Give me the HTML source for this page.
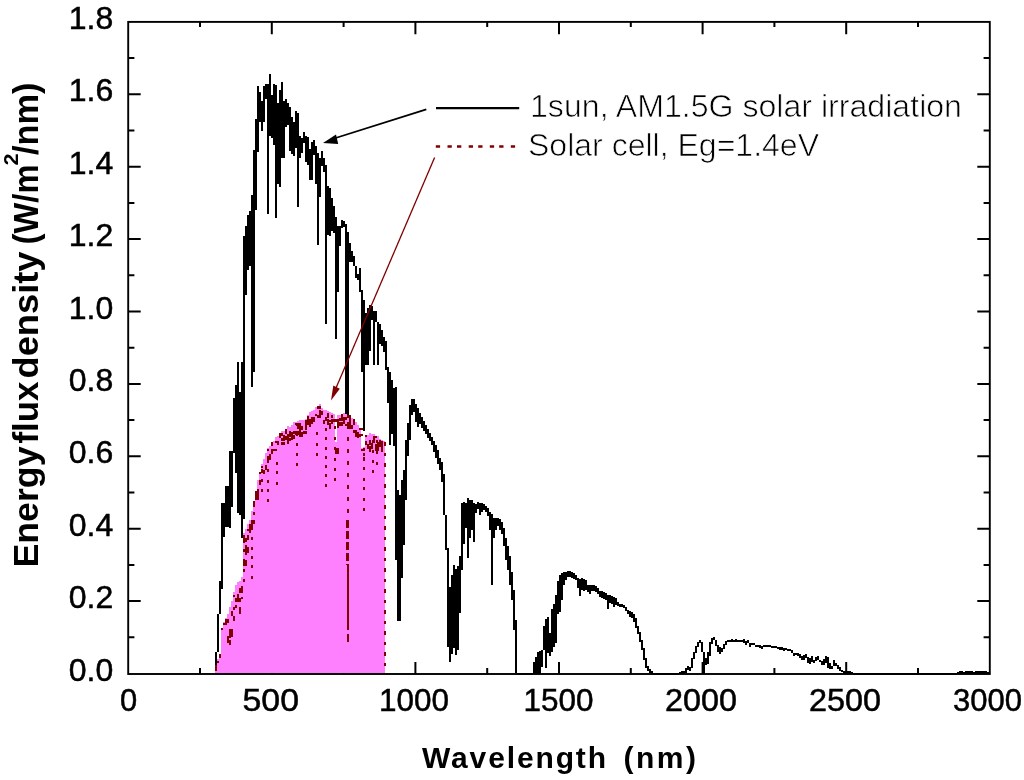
<!DOCTYPE html>
<html><head><meta charset="utf-8"><title>Solar spectrum</title>
<style>html,body{margin:0;padding:0;background:#fff}svg{display:block}</style></head>
<body>
<svg width="1024" height="780" viewBox="0 0 1024 780">
<rect width="1024" height="780" fill="#fff"/>
<path d="M200.0,674.0 v-6.0 M200.0,21.9 v5.0 M271.8,674.0 v-12.0 M271.8,21.9 v12.3 M343.6,674.0 v-6.0 M343.6,21.9 v5.0 M415.4,674.0 v-12.0 M415.4,21.9 v12.3 M487.2,674.0 v-6.0 M487.2,21.9 v5.0 M559.0,674.0 v-12.0 M559.0,21.9 v12.3 M630.8,674.0 v-6.0 M630.8,21.9 v5.0 M702.6,674.0 v-12.0 M702.6,21.9 v12.3 M774.4,674.0 v-6.0 M774.4,21.9 v5.0 M846.2,674.0 v-12.0 M846.2,21.9 v12.3 M918.0,674.0 v-6.0 M918.0,21.9 v5.0 M128.2,637.3 h6.2 M989.8,637.3 h-6.2 M128.2,601.1 h12.5 M989.8,601.1 h-12.5 M128.2,564.9 h6.2 M989.8,564.9 h-6.2 M128.2,528.7 h12.5 M989.8,528.7 h-12.5 M128.2,492.5 h6.2 M989.8,492.5 h-6.2 M128.2,456.3 h12.5 M989.8,456.3 h-12.5 M128.2,420.1 h6.2 M989.8,420.1 h-6.2 M128.2,383.9 h12.5 M989.8,383.9 h-12.5 M128.2,347.7 h6.2 M989.8,347.7 h-6.2 M128.2,311.5 h12.5 M989.8,311.5 h-12.5 M128.2,275.3 h6.2 M989.8,275.3 h-6.2 M128.2,239.1 h12.5 M989.8,239.1 h-12.5 M128.2,202.9 h6.2 M989.8,202.9 h-6.2 M128.2,166.7 h12.5 M989.8,166.7 h-12.5 M128.2,130.5 h6.2 M989.8,130.5 h-6.2 M128.2,94.3 h12.5 M989.8,94.3 h-12.5 M128.2,58.1 h6.2 M989.8,58.1 h-6.2" stroke="#000" stroke-width="2" fill="none"/>
<path d="M216,652 V673 M218,614 V652 M220,581 V614 M222,503 V589 M224,503 V537 M226,486 V527 M228,486 V527 M230,451 V528 M232,451 V507 M234,398 V453 M236,385 V473 M238,362 V513 M240,392 V515 M242,362 V538 M244,236 V519 M246,226 V295 M248,215 V270 M250,211 V266 M252,195 V387 M254,150 V372 M256,119 V210 M258,86 V152 M260,92 V122 M262,101 V131 M264,86 V122 M266,84 V99 M268,84 V214 M270,74 V136 M272,95 V138 M274,84 V145 M276,85 V218 M278,103 V184 M280,90 V187 M282,82 V158 M284,101 V158 M286,99 V127 M288,103 V125 M290,107 V151 M292,117 V154 M294,122 V156 M296,111 V148 M298,113 V207 M300,136 V158 M302,138 V153 M304,132 V143 M306,136 V162 M308,137 V165 M310,149 V180 M312,142 V180 M314,140 V155 M316,146 V184 M318,153 V245 M320,158 V197 M322,151 V166 M324,158 V172 M326,165 V324 M328,186 V235 M330,188 V236 M332,198 V231 M334,206 V233 M336,217 V339 M338,226 V292 M340,226 V246 M342,220 V228 M344,221 V227 M346,224 V640 M348,232 V640 M350,243 V262 M352,251 V262 M354,256 V266 M356,266 V278 M358,274 V280 M360,268 V292 M362,290 V372 M364,300 V431 M366,313 V365 M368,308 V365 M370,305 V351 M372,306 V320 M374,311 V365 M376,311 V322 M378,322 V365 M380,324 V344 M382,330 V346 M384,337 V352 M386,341 V370 M388,367 V403 M390,372 V445 M392,380 V434 M394,388 V446 M396,387 V560 M398,490 V621 M400,495 V621 M402,480 V578 M404,470 V545 M406,440 V500 M408,423 V456 M410,405 V440 M412,399 V415 M414,399 V412 M416,404 V422 M418,408 V427 M420,413 V424 M422,417 V428 M424,421 V431 M426,425 V434 M428,429 V438 M430,433 V441 M432,437 V445 M434,441 V452 M436,445 V458 M438,450 V464 M440,458 V470 M442,462 V482 M444,474 V515 M446,515 V550 M448,548 V647 M450,587 V662 M452,575 V654 M454,565 V648 M456,569 V655 M458,566 V650 M460,556 V613 M462,503 V570 M464,502 V544 M466,503 V528 M468,498 V558 M470,500 V538 M472,500 V530 M474,503 V542 M476,504 V513 M478,502 V509 M480,503 V515 M482,503 V512 M484,504 V510 M486,506 V512 M488,508 V516 M490,512 V530 M492,514 V585 M494,518 V538 M496,518 V530 M498,518 V526 M500,519 V530 M502,522 V534 M504,528 V546 M506,538 V560 M508,546 V570 M510,556 V585 M512,572 V600 M514,590 V630 M516,620 V673 M518,673 V675 M520,673 V675 M522,673 V675 M524,673 V675 M526,673 V675 M528,673 V675 M530,673 V675 M532,673 V675 M534,662 V674 M536,657 V674 M538,652 V674 M540,651 V674 M542,650 V667 M544,626 V650 M546,619 V668 M548,617 V653 M550,633 V656 M552,609 V652 M554,604 V647 M556,595 V643 M558,581 V614 M560,575 V612 M562,573 V600 M564,572 V585 M566,572 V580 M568,571 V577 M570,571 V577 M572,572 V578 M574,573 V579 M576,575 V580 M578,578 V588 M580,579 V596 M582,578 V590 M584,579 V591 M586,580 V590 M588,585 V592 M590,585 V594 M592,585 V591 M594,585 V591 M596,586 V592 M598,588 V594 M600,591 V597 M602,591 V598 M604,592 V599 M606,593 V600 M608,595 V609 M610,595 V603 M612,596 V604 M614,597 V607 M616,598 V605 M618,602 V606 M620,604 V607 M622,604 V607 M624,605 V608 M626,607 V611 M628,610 V614 M630,611 V617 M632,612 V618 M634,614 V622 M636,618 V628 M638,626 V634 M640,632 V642 M642,640 V650 M644,648 V660 M646,658 V668 M648,666 V671 M650,669 V673 M652,671 V674 M654,673 V675 M656,673 V675 M658,673 V675 M660,673 V675 M662,673 V675 M664,673 V675 M666,673 V675 M668,673 V675 M670,673 V675 M672,673 V675 M674,673 V675 M676,673 V675 M678,673 V675 M680,672 V674 M682,671 V674 M684,671 V674 M686,668 V673 M688,666 V670 M690,667 V671 M692,658 V668 M694,652 V659 M696,646 V653 M698,642 V647 M700,640 V643 M702,642 V652 M704,652 V674 M706,658 V665 M708,652 V664 M710,642 V656 M712,638 V644 M714,637 V640 M716,640 V646 M718,645 V652 M720,647 V654 M722,648 V652 M724,644 V649 M726,641 V645 M728,640 V642 M730,640 V642 M732,639 V642 M734,640 V642 M736,639 V642 M738,640 V642 M740,640 V642 M742,640 V642 M744,639 V643 M746,641 V645 M748,640 V643 M750,643 V647 M752,643 V645 M754,643 V645 M756,645 V647 M758,645 V647 M760,645 V648 M762,646 V649 M764,645 V647 M766,645 V647 M768,645 V647 M770,645 V647 M772,646 V648 M774,646 V648 M776,646 V648 M778,647 V649 M780,647 V650 M782,647 V650 M784,648 V651 M786,648 V650 M788,649 V651 M790,649 V651 M792,650 V653 M794,653 V656 M796,653 V655 M798,653 V656 M800,654 V658 M802,656 V660 M804,655 V660 M806,654 V658 M808,657 V663 M810,658 V664 M812,656 V662 M814,660 V663 M816,657 V661 M818,656 V660 M820,660 V662 M822,661 V665 M824,659 V665 M826,656 V663 M828,657 V668 M830,663 V669 M832,666 V669 M834,660 V666 M836,663 V666 M838,665 V669 M840,667 V671 M842,670 V672 M844,671 V674 M846,671 V674 M848,671 V674 M850,671 V674 M852,672 V674 M854,673 V675 M856,673 V675 M858,673 V675 M860,673 V675 M862,673 V675 M864,673 V675 M866,673 V675 M868,673 V675 M870,673 V675 M872,673 V675 M874,673 V675 M876,673 V675 M878,673 V675 M880,673 V675 M882,673 V675 M884,673 V675 M886,673 V675 M888,673 V675 M890,673 V675 M892,673 V675 M894,673 V675 M896,673 V675 M898,673 V675 M900,673 V675 M902,673 V675 M904,673 V675 M906,673 V675 M908,673 V675 M910,673 V675 M912,673 V675 M914,673 V675 M916,673 V675 M918,673 V675 M920,673 V675 M922,673 V675 M924,673 V675 M926,673 V675 M928,673 V675 M930,673 V675 M932,673 V675 M934,673 V675 M936,673 V675 M938,673 V675 M940,673 V675 M942,673 V675 M944,673 V675 M946,673 V675 M948,673 V675 M950,673 V675 M952,673 V675 M954,673 V675 M956,673 V675 M958,672 V674 M960,671 V674 M962,671 V674 M964,672 V674 M966,671 V674 M968,671 V674 M970,671 V674 M972,671 V674 M974,672 V674 M976,671 V674 M978,671 V674 M980,671 V674 M982,671 V674 M984,671 V674 M986,671 V674 M988,672 V674" fill="none" stroke="#000" stroke-width="2" shape-rendering="crispEdges"/>
<path d="M215,665 h2 V673 h-2zM217,659 h2 V673 h-2zM219,654 h2 V673 h-2zM221,629 h2 V673 h-2zM223,622 h2 V673 h-2zM225,618 h2 V673 h-2zM227,614 h2 V673 h-2zM229,607 h2 V673 h-2zM231,601 h2 V673 h-2zM233,592 h2 V673 h-2zM235,585 h2 V673 h-2zM237,582 h2 V673 h-2zM239,581 h2 V673 h-2zM241,577 h2 V673 h-2zM243,533 h2 V673 h-2zM245,529 h2 V673 h-2zM247,524 h2 V673 h-2zM249,520 h2 V673 h-2zM251,511 h2 V673 h-2zM253,501 h2 V673 h-2zM255,491 h2 V673 h-2zM257,480 h2 V673 h-2zM259,472 h2 V673 h-2zM261,464 h2 V673 h-2zM263,459 h2 V673 h-2zM265,453 h2 V673 h-2zM267,448 h2 V673 h-2zM269,446 h2 V673 h-2zM271,442 h2 V673 h-2zM273,441 h2 V673 h-2zM275,437 h2 V673 h-2zM277,436 h2 V673 h-2zM279,433 h2 V673 h-2zM281,431 h2 V673 h-2zM283,431 h2 V673 h-2zM285,430 h2 V673 h-2zM287,426 h2 V673 h-2zM289,427 h2 V673 h-2zM291,425 h2 V673 h-2zM293,422 h2 V673 h-2zM295,422 h2 V673 h-2zM297,421 h2 V673 h-2zM299,420 h2 V673 h-2zM301,420 h2 V673 h-2zM303,420 h2 V673 h-2zM305,419 h2 V673 h-2zM307,415 h2 V673 h-2zM309,412 h2 V673 h-2zM311,411 h2 V673 h-2zM313,410 h2 V673 h-2zM315,407 h2 V673 h-2zM317,406 h2 V673 h-2zM319,404 h2 V673 h-2zM321,408 h2 V673 h-2zM323,410 h2 V673 h-2zM325,410 h2 V673 h-2zM327,411 h2 V673 h-2zM329,412 h2 V673 h-2zM331,413 h2 V673 h-2zM333,414 h2 V673 h-2zM335,442 h2 V673 h-2zM337,415 h2 V673 h-2zM339,415 h2 V673 h-2zM341,414 h2 V673 h-2zM343,413 h2 V673 h-2zM345,414 h2 V673 h-2zM347,417 h2 V673 h-2zM349,415 h2 V673 h-2zM351,418 h2 V673 h-2zM353,419 h2 V673 h-2zM355,422 h2 V673 h-2zM357,425 h2 V673 h-2zM359,429 h2 V673 h-2zM361,448 h2 V673 h-2zM363,447 h2 V673 h-2zM365,437 h2 V673 h-2zM367,435 h2 V673 h-2zM369,433 h2 V673 h-2zM371,434 h2 V673 h-2zM373,434 h2 V673 h-2zM375,436 h2 V673 h-2zM377,436 h2 V673 h-2zM379,439 h2 V673 h-2zM381,440 h2 V673 h-2zM383,441 h2 V673 h-2zM383,442 h2 V673 h-2z" fill="#ff80ff" shape-rendering="crispEdges"/>
<path d="M215,665 h2 v6 h-2zM217,661 h2 v2 h-2zM219,654 h2 v4 h-2zM221,628 h2 v2 h-2zM223,623 h4 v2 h-4zM225,620 h4 v3 h-4zM225,619 h2 v5 h-2zM227,619 h2 v4 h-2zM227,640 h2 v3 h-2zM227,636 h2 v4 h-2zM229,633 h2 v5 h-2zM229,629 h4 v5 h-4zM229,640 h2 v5 h-2zM229,634 h4 v3 h-4zM231,611 h2 v5 h-2zM231,629 h2 v4 h-2zM233,595 h2 v2 h-2zM233,607 h2 v3 h-2zM233,616 h2 v3 h-2zM233,618 h2 v3 h-2zM235,605 h2 v3 h-2zM235,598 h2 v4 h-2zM237,598 h4 v4 h-4zM237,594 h2 v4 h-2zM239,590 h4 v2 h-4zM239,610 h2 v4 h-2zM239,607 h2 v4 h-2zM239,588 h4 v5 h-4zM241,597 h2 v2 h-2zM241,586 h2 v6 h-2zM243,538 h4 v4 h-4zM243,560 h4 v3 h-4zM243,562 h4 v4 h-4zM243,535 h2 v6 h-2zM245,545 h2 v5 h-2zM245,553 h2 v2 h-2zM245,547 h4 v6 h-4zM247,529 h2 v2 h-2zM247,535 h2 v5 h-2zM249,528 h2 v5 h-2zM249,524 h2 v3 h-2zM249,526 h2 v2 h-2zM251,520 h4 v4 h-4zM251,523 h2 v4 h-2zM253,501 h2 v6 h-2zM253,512 h2 v3 h-2zM255,491 h2 v5 h-2zM255,494 h4 v6 h-4zM257,489 h2 v5 h-2zM259,480 h2 v5 h-2zM259,472 h2 v2 h-2zM261,469 h2 v3 h-2zM261,466 h2 v2 h-2zM263,470 h2 v4 h-2zM265,465 h2 v5 h-2zM267,449 h2 v2 h-2zM267,456 h4 v4 h-4zM269,454 h2 v3 h-2zM271,442 h2 v4 h-2zM271,449 h2 v5 h-2zM273,449 h4 v2 h-4zM275,441 h2 v2 h-2zM277,441 h2 v4 h-2zM279,436 h2 v2 h-2zM279,433 h4 v3 h-4zM281,438 h2 v3 h-2zM281,442 h4 v3 h-4zM283,435 h2 v6 h-2zM285,429 h2 v5 h-2zM285,436 h2 v4 h-2zM287,438 h2 v6 h-2zM287,438 h4 v3 h-4zM287,434 h2 v6 h-2zM289,432 h2 v5 h-2zM289,431 h2 v4 h-2zM291,432 h2 v3 h-2zM291,434 h2 v6 h-2zM291,436 h2 v4 h-2zM293,435 h2 v4 h-2zM293,431 h4 v3 h-4zM295,431 h4 v4 h-4zM295,423 h2 v2 h-2zM297,427 h4 v2 h-4zM297,426 h2 v3 h-2zM297,423 h4 v6 h-4zM299,432 h4 v5 h-4zM299,429 h2 v6 h-2zM301,426 h2 v4 h-2zM303,431 h4 v3 h-4zM305,420 h4 v5 h-4zM305,425 h2 v5 h-2zM307,416 h2 v4 h-2zM309,419 h4 v2 h-4zM309,421 h2 v6 h-2zM311,417 h4 v5 h-4zM311,419 h2 v5 h-2zM313,417 h2 v4 h-2zM315,414 h2 v2 h-2zM317,406 h4 v3 h-4zM317,415 h2 v3 h-2zM319,410 h2 v4 h-2zM319,410 h2 v3 h-2zM319,413 h2 v5 h-2zM321,411 h2 v4 h-2zM321,412 h2 v2 h-2zM323,420 h2 v2 h-2zM323,421 h2 v3 h-2zM325,418 h2 v3 h-2zM327,419 h2 v6 h-2zM327,413 h2 v5 h-2zM329,423 h2 v6 h-2zM329,420 h2 v2 h-2zM331,419 h2 v5 h-2zM331,415 h2 v3 h-2zM333,419 h4 v3 h-4zM335,449 h2 v2 h-2zM335,448 h4 v6 h-4zM337,420 h2 v5 h-2zM337,419 h2 v2 h-2zM337,424 h2 v4 h-2zM339,423 h2 v3 h-2zM339,418 h2 v3 h-2zM339,422 h4 v4 h-4zM341,417 h4 v4 h-4zM341,414 h2 v4 h-2zM343,418 h2 v6 h-2zM343,417 h4 v3 h-4zM343,417 h2 v4 h-2zM345,424 h4 v2 h-4zM347,422 h4 v2 h-4zM347,415 h4 v3 h-4zM347,423 h4 v6 h-4zM349,418 h2 v5 h-2zM351,425 h2 v4 h-2zM353,430 h4 v3 h-4zM353,419 h2 v6 h-2zM355,432 h4 v5 h-4zM357,432 h2 v6 h-2zM359,434 h4 v2 h-4zM359,428 h4 v2 h-4zM359,435 h2 v2 h-2zM361,449 h2 v2 h-2zM363,453 h2 v3 h-2zM363,457 h2 v3 h-2zM365,441 h2 v4 h-2zM365,435 h2 v2 h-2zM367,444 h2 v5 h-2zM367,445 h2 v4 h-2zM369,440 h2 v5 h-2zM369,441 h2 v4 h-2zM369,446 h2 v6 h-2zM371,443 h2 v6 h-2zM373,438 h2 v5 h-2zM373,436 h2 v2 h-2zM375,436 h2 v2 h-2zM375,444 h2 v6 h-2zM375,445 h4 v6 h-4zM377,442 h4 v5 h-4zM379,441 h4 v2 h-4zM379,440 h2 v4 h-2zM381,446 h2 v6 h-2zM381,442 h2 v6 h-2zM381,446 h2 v5 h-2zM243,540 h2 v3 h-2zM243,549 h2 v3 h-2zM243,559 h2 v3 h-2zM243,569 h2 v3 h-2zM243,579 h2 v3 h-2zM251,527 h2 v3 h-2zM251,537 h2 v3 h-2zM251,547 h2 v3 h-2zM251,556 h2 v3 h-2zM251,565 h2 v3 h-2zM251,576 h2 v3 h-2zM261,470 h2 v3 h-2zM261,479 h2 v3 h-2zM261,489 h2 v3 h-2zM267,460 h2 v3 h-2zM267,469 h2 v3 h-2zM267,480 h2 v3 h-2zM267,489 h2 v3 h-2zM267,499 h2 v3 h-2zM276,462 h2 v3 h-2zM276,471 h2 v3 h-2zM276,482 h2 v3 h-2zM296,423 h2 v3 h-2zM296,433 h2 v3 h-2zM296,443 h2 v3 h-2zM296,453 h2 v3 h-2zM296,463 h2 v3 h-2zM316,432 h2 v3 h-2zM316,443 h2 v3 h-2zM316,453 h2 v3 h-2zM325,417 h2 v3 h-2zM325,428 h2 v3 h-2zM325,437 h2 v3 h-2zM325,447 h2 v3 h-2zM325,456 h2 v3 h-2zM325,465 h2 v3 h-2zM325,474 h2 v3 h-2zM325,484 h2 v3 h-2zM334,426 h2 v3 h-2zM334,437 h2 v3 h-2zM334,447 h2 v3 h-2zM334,458 h2 v3 h-2zM334,468 h2 v3 h-2zM334,478 h2 v3 h-2zM363,448 h2 v3 h-2zM363,458 h2 v3 h-2zM363,467 h2 v3 h-2zM363,478 h2 v3 h-2zM363,487 h2 v3 h-2zM363,498 h2 v3 h-2zM363,508 h2 v3 h-2zM372,440 h2 v3 h-2zM372,450 h2 v3 h-2zM372,460 h2 v3 h-2zM372,470 h2 v3 h-2zM376,440 h2 v3 h-2zM376,451 h2 v3 h-2zM376,462 h2 v3 h-2z" fill="#800000" shape-rendering="crispEdges"/>
<path d="M384.5,442 V673" fill="none" stroke="#800000" stroke-width="2" stroke-dasharray="3.5 7" shape-rendering="crispEdges"/>
<path d="M347.7,425 V520" fill="none" stroke="#800000" stroke-width="2" stroke-dasharray="4 8" shape-rendering="crispEdges"/>
<path d="M347.7,520 V565" fill="none" stroke="#800000" stroke-width="3" stroke-dasharray="8 3" shape-rendering="crispEdges"/>
<path d="M347.7,565 V630 M347.7,634 V642" fill="none" stroke="#800000" stroke-width="2" shape-rendering="crispEdges"/>
<rect x="128.2" y="21.9" width="861.6" height="652.1" fill="none" stroke="#000" stroke-width="1.9"/>
<g font-family="'Liberation Sans', Arial, sans-serif" font-size="31" fill="#000" stroke="#000" stroke-width="0.5">
<text x="119.90" y="711" textLength="17.20" lengthAdjust="spacingAndGlyphs">0</text>
<text x="242.50" y="711" textLength="56.50" lengthAdjust="spacingAndGlyphs">500</text>
<text x="379.00" y="711" textLength="70.00" lengthAdjust="spacingAndGlyphs">1000</text>
<text x="523.50" y="711" textLength="70.00" lengthAdjust="spacingAndGlyphs">1500</text>
<text x="665.00" y="711" textLength="72.00" lengthAdjust="spacingAndGlyphs">2000</text>
<text x="809.00" y="711" textLength="72.00" lengthAdjust="spacingAndGlyphs">2500</text>
<text x="953.00" y="711" textLength="69.00" lengthAdjust="spacingAndGlyphs">3000</text>
<text x="113.3" y="680.5" text-anchor="end" font-size="32">0.0</text>
<text x="113.3" y="608.1" text-anchor="end" font-size="32">0.2</text>
<text x="113.3" y="535.7" text-anchor="end" font-size="32">0.4</text>
<text x="113.3" y="463.3" text-anchor="end" font-size="32">0.6</text>
<text x="113.3" y="390.9" text-anchor="end" font-size="32">0.8</text>
<text x="113.3" y="318.5" text-anchor="end" font-size="32">1.0</text>
<text x="113.3" y="246.1" text-anchor="end" font-size="32">1.2</text>
<text x="113.3" y="173.7" text-anchor="end" font-size="32">1.4</text>
<text x="113.3" y="101.3" text-anchor="end" font-size="32">1.6</text>
<text x="113.3" y="28.9" text-anchor="end" font-size="32">1.8</text>
</g>
<g font-family="'Liberation Sans', Arial, sans-serif" font-size="31" fill="#000" stroke="#fff" stroke-width="0.7" paint-order="fill">
<text x="530" y="116.5" textLength="432" lengthAdjust="spacingAndGlyphs">1sun, AM1.5G solar irradiation</text>
<text x="528" y="156" textLength="291" lengthAdjust="spacingAndGlyphs">Solar cell, Eg=1.4eV</text>
</g>
<path d="M436,108.2 H519.2" stroke="#000" stroke-width="2.2"/>
<path d="M435.8,146.5 h4.3 M447.5,146.5 h4.3 M457.0,146.5 h4.3 M468.7,146.5 h4.3 M478.2,146.5 h4.3 M489.8,146.5 h4.3 M499.2,146.5 h4.3 M510.8,146.5 h4.3" stroke="#800000" stroke-width="2.4" fill="none"/>
<path d="M426.3,109.4 L334,138.5" stroke="#000" stroke-width="1.8"/>
<path d="M323,143 L336,134.5 L338.2,144 Z" fill="#000"/>
<path d="M434.6,157.6 L336,388" stroke="#800000" stroke-width="1.3"/>
<path d="M331,400.5 L333.3,385.5 L339.8,388.8 Z" fill="#800000"/>
<g font-family="'Liberation Sans', Arial, sans-serif" font-weight="bold" fill="#000">
<text x="422" y="767.5" font-size="30" textLength="184" lengthAdjust="spacing">Wavelength</text>
<text x="623.5" y="767.5" font-size="30" textLength="72.5" lengthAdjust="spacing">(nm)</text>
<g transform="translate(38,0) rotate(-90)" font-size="35">
<text x="-567.5" y="0" textLength="121" lengthAdjust="spacingAndGlyphs">Energy</text>
<text x="-443.5" y="0" textLength="62" lengthAdjust="spacingAndGlyphs">flux</text>
<text x="-378.5" y="0" textLength="127" lengthAdjust="spacingAndGlyphs">density</text>
<text x="-244.5" y="0" textLength="80" lengthAdjust="spacingAndGlyphs">(W/m</text>
<text x="-165.5" y="-20" font-size="20" textLength="12" lengthAdjust="spacingAndGlyphs">2</text>
<text x="-155" y="0" textLength="72.5" lengthAdjust="spacingAndGlyphs">/nm)</text>
</g>
</g>
</svg>
</body></html>
